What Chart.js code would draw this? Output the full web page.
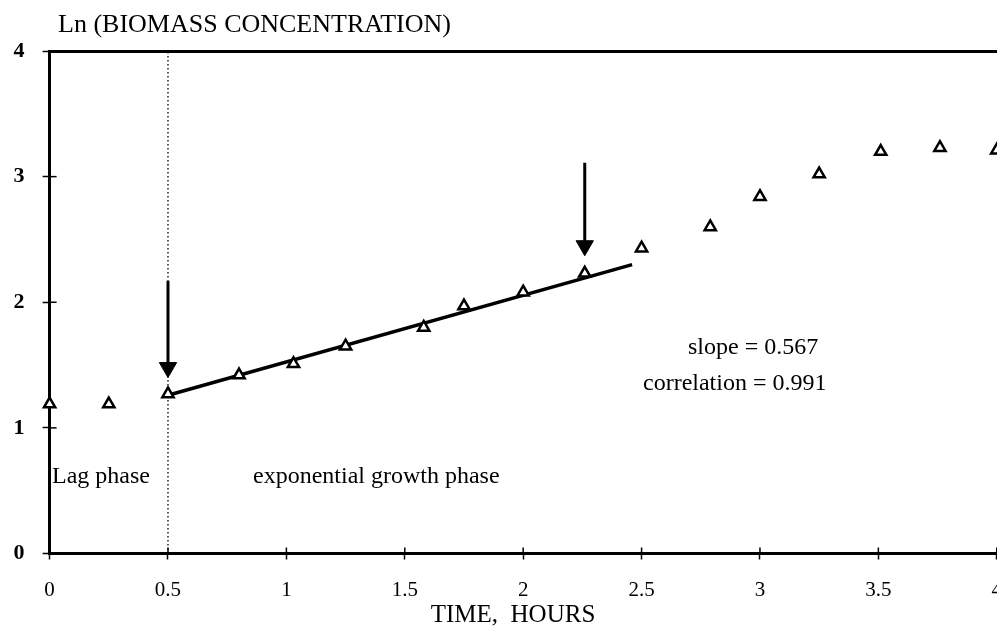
<!DOCTYPE html>
<html>
<head>
<meta charset="utf-8">
<script src="https://cdn.jsdelivr.net/npm/chart.js@4/dist/chart.umd.min.js"></script>
<style>
  html, body { margin: 0; padding: 0; background: #fff; overflow: hidden; }
  #wrap { width: 1020px; height: 630px; }
</style>
</head>
<body>
<div id="wrap"><canvas id="growth-chart" width="1020" height="630"></canvas></div>
<script>
// values
const timeHours = [0, 0.25, 0.5, 0.8, 1.03, 1.25, 1.58, 1.75, 2.0, 2.26, 2.5, 2.79, 3.0, 3.25, 3.51, 3.76, 4.0];
const lnBiomass = [1.19, 1.19, 1.27, 1.42, 1.51, 1.65, 1.80, 1.97, 2.08, 2.23, 2.43, 2.60, 2.84, 3.02, 3.20, 3.23, 3.21];

// regression line over the exponential phase
const fitTime = [0.5, 2.46];
const fitLn = [1.26, 2.30];

// arrows marking start / end of the exponential phase (shaft top -> head)
const arrowStartTime = [0.5, 0.5];
const arrowStartLn = [2.17, 1.48];
const arrowEndTime = [2.26, 2.26];
const arrowEndLn = [3.11, 2.45];

// lag / exponential boundary
const boundaryTime = [0.5, 0.5];
const boundaryLn = [0, 4];

const xTicks = [0, 0.5, 1, 1.5, 2, 2.5, 3, 3.5, 4];
const yTicks = [0, 1, 2, 3, 4];

const yTitle = "Ln (BIOMASS CONCENTRATION)";
const xTitle = "TIME,  HOURS";
const notes = [
  { text: "Lag phase", x: 52, y: 483 },
  { text: "exponential growth phase", x: 253, y: 483 },
  { text: "slope = 0.567", x: 688, y: 354 },
  { text: "correlation = 0.991", x: 643, y: 390 },
];

const SERIF = "'Liberation Serif', 'Times New Roman', serif";

function pts(xs, ys) {
  return xs.map((x, i) => ({ x, y: ys[i] }));
}

const arrowStyle = {
  borderColor: "#000",
  borderWidth: 3,
  backgroundColor: "#000",
  pointStyle: "triangle",
  pointRotation: 180,
  pointRadius: [0, 10],
  pointBorderWidth: 1,
  pointBackgroundColor: "#000",
  pointBorderColor: "#000",
  clip: false,
};

// crossing tick marks + texts
const decorations = {
  id: "decorations",
  afterDraw(chart) {
    const { ctx, chartArea, scales } = chart;
    const x = scales.x, y = scales.y;
    ctx.save();
    ctx.strokeStyle = "#000";
    ctx.lineWidth = 1.5;
    y.ticks.forEach((t) => {
      const py = y.getPixelForValue(t.value);
      ctx.beginPath();
      ctx.moveTo(chartArea.left, py);
      ctx.lineTo(chartArea.left + 7, py);
      ctx.stroke();
    });
    x.ticks.forEach((t) => {
      const px = x.getPixelForValue(t.value);
      ctx.beginPath();
      ctx.moveTo(px, chartArea.bottom);
      ctx.lineTo(px, chartArea.bottom - 6);
      ctx.stroke();
    });

    ctx.fillStyle = "#000";
    ctx.textAlign = "left";
    ctx.textBaseline = "alphabetic";
    ctx.font = "26px " + SERIF;
    ctx.fillText(yTitle, 58, 32);

    ctx.font = "24px " + SERIF;
    notes.forEach((n) => ctx.fillText(n.text, n.x, n.y));

    ctx.font = "25px " + SERIF;
    ctx.textAlign = "center";
    ctx.fillText(xTitle, 513, 622);
    ctx.restore();
  },
};

new Chart(document.getElementById("growth-chart"), {
  type: "scatter",
  data: {
    datasets: [
      {
        label: "Ln biomass",
        data: pts(timeHours, lnBiomass),
        pointStyle: "triangle",
        pointRadius: 6.5,
        pointBorderWidth: 2.5,
        pointBorderColor: "#000",
        pointBackgroundColor: "#fff",
        showLine: false,
        clip: false,
      },
      {
        label: "fit",
        data: pts(fitTime, fitLn),
        showLine: true,
        borderColor: "#000",
        borderWidth: 3.5,
        pointRadius: 0,
        clip: false,
      },
      { label: "start", data: pts(arrowStartTime, arrowStartLn), showLine: true, ...arrowStyle },
      { label: "end", data: pts(arrowEndTime, arrowEndLn), showLine: true, ...arrowStyle },
      {
        label: "boundary",
        data: pts(boundaryTime, boundaryLn),
        showLine: true,
        borderColor: "#000",
        borderWidth: 1.3,
        borderDash: [1.5, 2.5],
        pointRadius: 0,
        clip: false,
      },
    ],
  },
  options: {
    responsive: false,
    animation: false,
    devicePixelRatio: 1,
    layout: { padding: { top: 51, right: 22, bottom: 0, left: 0 } },
    plugins: { legend: { display: false }, tooltip: { enabled: false } },
    scales: {
      x: {
        type: "linear",
        min: 0,
        max: 4,
        afterFit: (s) => { s.height = 76.5; },
        afterBuildTicks: (s) => { s.ticks = xTicks.map((v) => ({ value: v })); },
        border: { display: true, color: "#000", width: 3 },
        grid: { drawOnChartArea: false, drawTicks: true, tickLength: 6, tickColor: "#000", tickWidth: 1.5 },
        ticks: {
          color: "#000",
          padding: 18,
          maxRotation: 0,
          font: { family: SERIF, size: 21 },
          callback: (v) => String(v),
        },
      },
      x2: {
        type: "linear",
        position: "top",
        min: 0,
        max: 4,
        afterFit: (s) => { s.height = 0; },
        border: { display: true, color: "#000", width: 3 },
        grid: { display: false, drawTicks: false },
        ticks: { display: false },
      },
      y: {
        type: "linear",
        min: 0,
        max: 4,
        afterFit: (s) => { s.width = 49.6; },
        afterBuildTicks: (s) => { s.ticks = yTicks.map((v) => ({ value: v })); },
        border: { display: true, color: "#000", width: 3 },
        grid: { drawOnChartArea: false, drawTicks: true, tickLength: 7, tickColor: "#000", tickWidth: 1.5 },
        ticks: {
          color: "#000",
          padding: 18,
          font: { family: SERIF, size: 22, weight: "bold" },
          callback: (v) => String(v),
        },
      },
    },
  },
  plugins: [decorations],
});
</script>
</body>
</html>
